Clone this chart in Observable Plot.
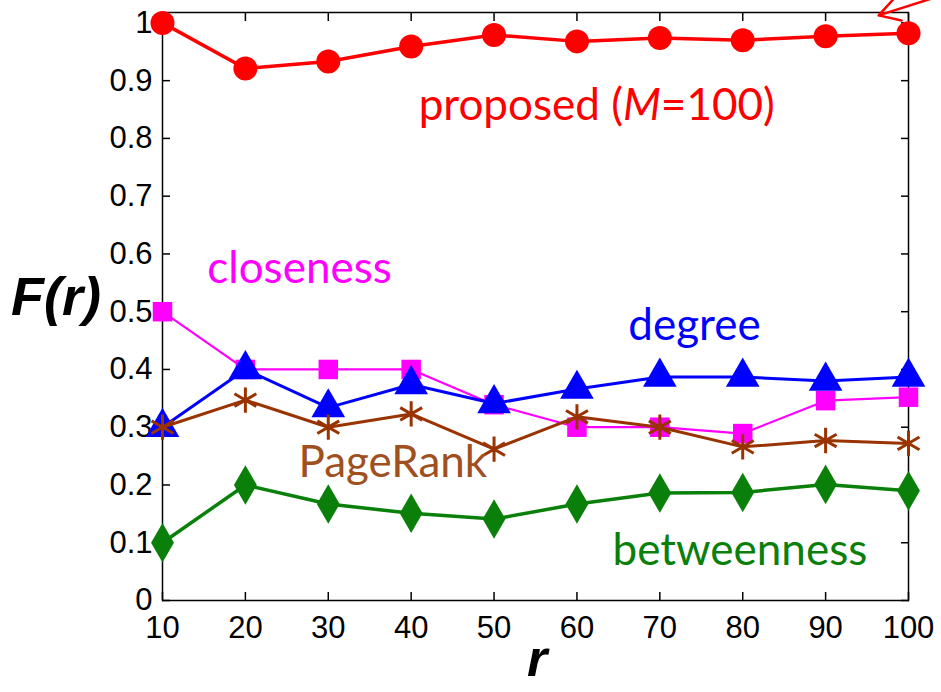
<!DOCTYPE html>
<html><head><meta charset="utf-8">
<script src="https://cdn.jsdelivr.net/npm/d3@7"></script>
<script src="https://cdn.jsdelivr.net/npm/@observablehq/plot@0.6"></script>
<style>body{margin:0;background:#fff;overflow:hidden}</style>
</head><body><div id="chart"></div>
<script>
const rValues = [10, 20, 30, 40, 50, 60, 70, 80, 90, 100];
const proposed = [1.0, 0.921, 0.933, 0.959, 0.979, 0.968, 0.974, 0.970, 0.977, 0.982];
const closeness = [0.5, 0.4, 0.4, 0.4, 0.339, 0.3, 0.3, 0.289, 0.346, 0.352];
const degree = [0.3, 0.4, 0.334, 0.374, 0.341, 0.366, 0.387, 0.387, 0.380, 0.387];
const pageRank = [0.3, 0.347, 0.3, 0.323, 0.262, 0.318, 0.300, 0.266, 0.277, 0.272];
const betweenness = [0.1, 0.2, 0.167, 0.151, 0.141, 0.167, 0.186, 0.187, 0.201, 0.190];

const xTicks = [10, 20, 30, 40, 50, 60, 70, 80, 90, 100];
const yTicks = [0, 0.1, 0.2, 0.3, 0.4, 0.5, 0.6, 0.7, 0.8, 0.9, 1];

const labelText = ["proposed (M=100)", "closeness", "degree", "PageRank", "betweenness"];
const labelX = [40.9, 15.4, 66.2, 26.4, 64.3];
const labelY = [0.856, 0.574, 0.476, 0.239, 0.085];
const labelColor = ["#ff0000", "#ff00ff", "#0000ff", "#a0501e", "#0a800a"];

const arrowFrom = {r: 104.5, v: 1.05};
const arrowTo = {r: 96.4, v: 1.013};

const seriesDefs = [
  {name: "proposed", values: proposed, color: "#ff0000", symbol: "circle", r: 12, width: 3.5},
  {name: "closeness", values: closeness, color: "#ff00ff", symbol: "square", r: 11, width: 2.2},
  {name: "degree", values: degree, color: "#0000ff", symbol: "triangle", r: 12.5, width: 3},
  {name: "PageRank", values: pageRank, color: "#993300", symbol: "asterisk", r: 12, width: 3},
  {name: "betweenness", values: betweenness, color: "#0a800a", symbol: "diamond", r: 12, width: 3.5}
];

const marks = [];
for (const s of seriesDefs) {
  const data = rValues.map((r, i) => ({r, v: s.values[i]}));
  marks.push(Plot.line(data, {x: "r", y: "v", stroke: s.color, strokeWidth: s.width}));
  if (s.symbol === "asterisk") {
    marks.push(Plot.dot(data, {x: "r", y: "v", symbol: "asterisk", stroke: s.color, strokeWidth: 3, r: s.r}));
  } else {
    marks.push(Plot.dot(data, {x: "r", y: "v", symbol: s.symbol, fill: s.color, stroke: "none", r: s.r}));
  }
}

const labels = labelText.map((t, i) => ({t, x: labelX[i], y: labelY[i], c: labelColor[i]}));

const chart = Plot.plot({
  width: 941,
  height: 692,
  marginLeft: 162,
  marginRight: 33,
  marginTop: 12,
  marginBottom: 92,
  style: {fontFamily: "Liberation Sans, Arial, sans-serif", background: "white", overflow: "visible"},
  x: {domain: [10, 100]},
  y: {domain: [0, 1.018]},
  marks: [
    Plot.axisX(xTicks, {anchor: "bottom", tickSize: -8, text: null, strokeWidth: 1.5}),
    Plot.axisX(xTicks, {anchor: "top", tickSize: -8, text: null, label: null, strokeWidth: 1.5}),
    Plot.axisY(yTicks, {anchor: "left", tickSize: -8, text: null, strokeWidth: 1.5}),
    Plot.axisY(yTicks, {anchor: "right", tickSize: -8, text: null, label: null, strokeWidth: 1.5}),
    Plot.axisX(xTicks, {anchor: "bottom", tickSize: 0, tickPadding: 15, fontSize: 31, label: null, tickFormat: d => String(d)}),
    Plot.axisY(yTicks, {anchor: "left", tickSize: 0, tickPadding: 10, fontSize: 31, label: null, tickFormat: d => String(d)}),
    Plot.frame({stroke: "black", strokeWidth: 1.5}),
    ...marks,
    Plot.text(labels, {x: "x", y: "y", text: "t", fill: "c", textAnchor: "start", fontSize: 44, fontFamily: "Lato, Open Sans, sans-serif"}),
    Plot.arrow([{a: arrowFrom, b: arrowTo}], {x1: d => d.a.r, y1: d => d.a.v, x2: d => d.b.r, y2: d => d.b.v, stroke: "#ff0000", strokeWidth: 2.5, headLength: 16, clip: false})
  ]
});

const svg = d3.select(chart);
// italic M in the proposed label
svg.selectAll("text").each(function() {
  const el = d3.select(this);
  if (el.text() === "proposed (M=100)") {
    el.text(null);
    el.append("tspan").text("proposed (");
    el.append("tspan").attr("font-style", "italic").text("M");
    el.append("tspan").text("=100)");
  }
});
// axis titles
svg.append("text").attr("x", 56).attr("y", 315).attr("text-anchor", "middle")
  .attr("font-family", "Liberation Sans, Arial, sans-serif").attr("font-weight", "bold").attr("font-style", "italic")
  .attr("font-size", 54).attr("fill", "black").text("F(r)");
svg.append("text").attr("x", 537).attr("y", 676).attr("text-anchor", "middle")
  .attr("font-family", "Liberation Sans, Arial, sans-serif").attr("font-weight", "bold").attr("font-style", "italic")
  .attr("font-size", 52).attr("fill", "black").text("r");

document.getElementById("chart").appendChild(chart);
</script>
</body></html>
